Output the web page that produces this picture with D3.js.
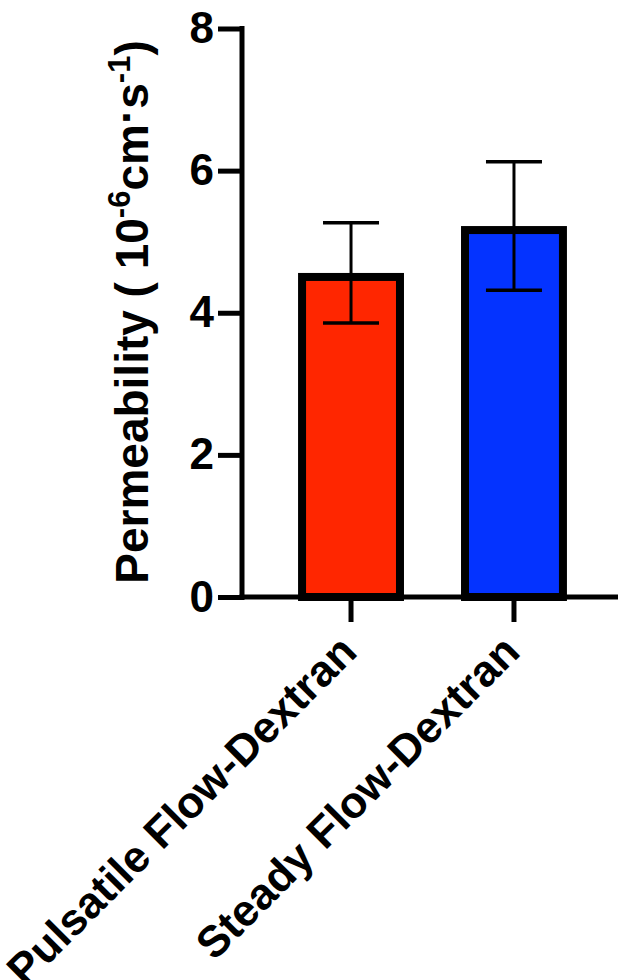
<!DOCTYPE html>
<html>
<head>
<meta charset="utf-8">
<script src="https://cdn.jsdelivr.net/npm/d3@7"></script>
<style>
  html, body { margin: 0; padding: 0; background: #fff; }
  svg { display: block; }
  text { font-family: "Liberation Sans", Arial, Helvetica, sans-serif; font-weight: bold; fill: #000; }
</style>
</head>
<body>
<svg id="chart" width="618" height="980"></svg>
<script>
// Permeability by flow condition (mean ± SD)
const categories = ["Pulsatile Flow-Dextran", "Steady Flow-Dextran"];
const means = [4.56, 5.22];
const errors = [0.705, 0.905];
const barColors = ["#FF2600", "#0433FF"];
const yTicks = [0, 2, 4, 6, 8];

const svg = d3.select("#chart");

const y = d3.scaleLinear().domain([0, 8]).range([597, 28.5]);
const x = d3.scaleBand()
  .domain(categories)
  .range([242, 623])
  .paddingInner(0.35)
  .paddingOuter(0.344);

const axisX = 242;
const stroke = 8;
const data = categories.map((c, i) => ({ c, m: means[i], e: errors[i], col: barColors[i] }));

// bars: thick black outline kept inside the bar footprint
svg.append("g").selectAll("rect")
  .data(data)
  .join("rect")
  .attr("x", d => x(d.c) + stroke / 2)
  .attr("width", x.bandwidth() - stroke)
  .attr("y", d => y(d.m) + stroke / 2)
  .attr("height", d => y(0) - y(d.m) - stroke / 2)
  .attr("fill", d => d.col)
  .attr("stroke", "#000")
  .attr("stroke-width", stroke);

// error bars
const eb = svg.append("g").attr("stroke", "#000");
data.forEach(d => {
  const cx = x(d.c) + x.bandwidth() / 2;
  eb.append("line")
    .attr("x1", cx).attr("x2", cx)
    .attr("y1", y(d.m - d.e)).attr("y2", y(d.m + d.e))
    .attr("stroke-width", 3);
  [d.m - d.e, d.m + d.e].forEach(v => {
    eb.append("line")
      .attr("x1", cx - 28).attr("x2", cx + 28)
      .attr("y1", y(v)).attr("y2", y(v))
      .attr("stroke-width", 3.5);
  });
});

// y axis
const gy = svg.append("g")
  .attr("transform", `translate(${axisX},0)`)
  .call(d3.axisLeft(y).tickValues(yTicks).tickFormat(d3.format("d")).tickSize(24).tickPadding(4));
gy.select(".domain").remove();
gy.selectAll(".tick line").attr("stroke", "#000").attr("stroke-width", 5);
gy.selectAll(".tick text")
  .attr("font-size", 44)
  .attr("font-family", "'Liberation Sans', Arial, sans-serif")
  .attr("font-weight", "bold")
  .attr("fill", "#000");
svg.append("line")
  .attr("x1", axisX).attr("x2", axisX)
  .attr("y1", y(8) - 2.5).attr("y2", y(0) + 3)
  .attr("stroke", "#000").attr("stroke-width", 5);

// x axis
const gx = svg.append("g")
  .attr("transform", `translate(0,${y(0)})`)
  .call(d3.axisBottom(x).tickSize(25).tickFormat(""));
gx.select(".domain").remove();
gx.selectAll(".tick line").attr("stroke", "#000").attr("stroke-width", 5);
svg.append("line")
  .attr("x1", axisX - 2.5).attr("x2", 618)
  .attr("y1", y(0)).attr("y2", y(0))
  .attr("stroke", "#000").attr("stroke-width", 5);

// rotated category labels
svg.append("g").selectAll("text")
  .data(categories)
  .join("text")
  .attr("transform", d => `translate(${x(d) + x.bandwidth() / 2 + 8},654) rotate(-45)`)
  .attr("text-anchor", "end")
  .attr("font-size", 44)
  .text(d => d);

// y axis title with superscripts
const yt = svg.append("text")
  .attr("transform", "translate(148,312) rotate(-90)")
  .attr("text-anchor", "middle")
  .attr("font-size", 46);
yt.append("tspan").text("Permeability ( 10");
yt.append("tspan").attr("font-size", 31).attr("dy", -18).text("-6");
yt.append("tspan").attr("dy", 18).text("cm");
yt.append("tspan").attr("dy", -6).text("·");
yt.append("tspan").attr("dy", 6).text("s");
yt.append("tspan").attr("font-size", 31).attr("dy", -18).text("-1");
yt.append("tspan").attr("dy", 18).text(")");
</script>
</body>
</html>
